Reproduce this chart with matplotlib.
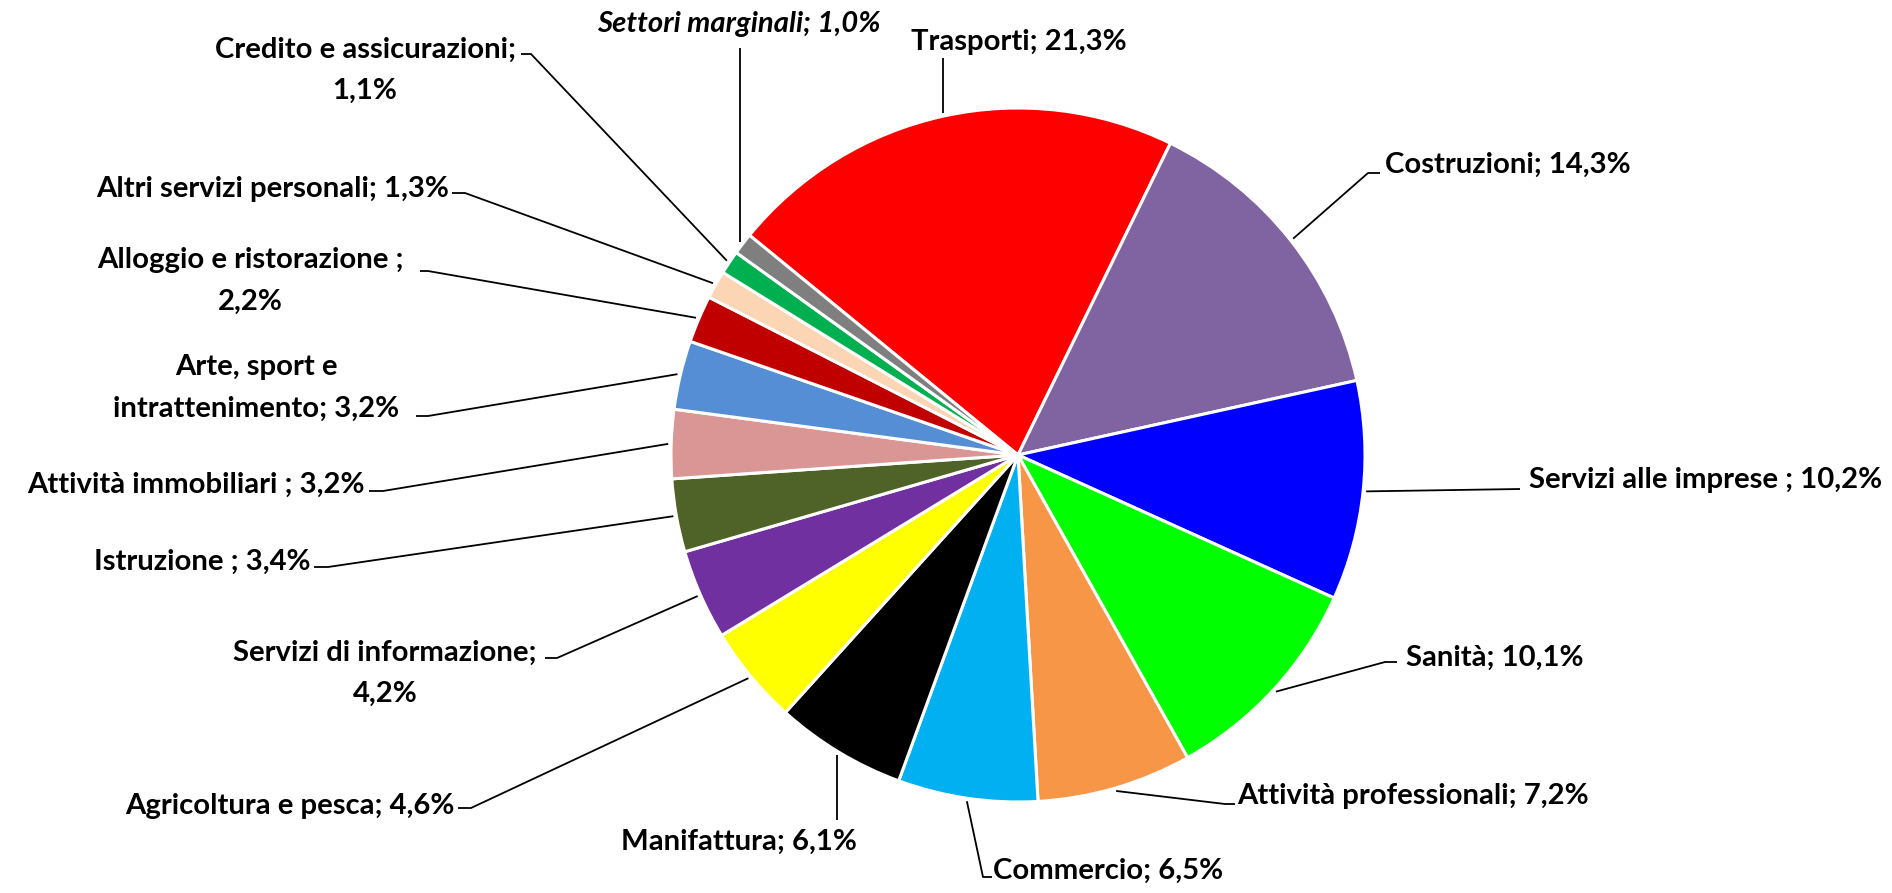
#Composizione per settore - grafico a torta
import numpy as np
import matplotlib.pyplot as plt
from matplotlib import font_manager
from matplotlib.font_manager import FontProperties
from matplotlib.textpath import TextPath

#Dati (in senso orario a partire da Trasporti)
settori = ['Trasporti', 'Costruzioni', 'Servizi alle imprese ', 'Sanità',
           'Attività professionali', 'Commercio', 'Manifattura', 'Agricoltura e pesca',
           'Servizi di informazione', 'Istruzione ', 'Attività immobiliari ',
           'Arte, sport e\nintrattenimento', 'Alloggio e ristorazione ',
           'Altri servizi personali', 'Credito e assicurazioni', 'Settori marginali']
quote = [21.3, 14.3, 10.2, 10.1, 7.2, 6.5, 6.1, 4.6, 4.2, 3.4, 3.2, 3.2, 2.2, 1.3, 1.1, 1.0]
colori = ['#FF0000', '#8064A2', '#0000FF', '#00FF00', '#F79646', '#00B0F0', '#000000',
          '#FFFF00', '#7030A0', '#4F6228', '#D99694', '#558ED5', '#C00000', '#FCD5B5',
          '#00B050', '#7F7F7F']
#etichette con il valore a capo
a_capo = ['Credito e assicurazioni', 'Alloggio e ristorazione ', 'Servizi di informazione']

#Dimensioni in pixel (y dall'alto)
W, H = 1892, 893
cx, cy, r = 1018, 455, 347

#posizione etichetta: x, y, allineamento, punti della linea guida (None = verticale)
layout = [
    (911, 42, 'left', [(None, 58)]),
    (1385, 165, 'left', [(1368, 173), (1380, 173)]),
    (1529, 480, 'left', [(1520, 489)]),
    (1406, 658, 'left', [(1385, 662), (1397, 662)]),
    (1237, 796, 'left', [(1225, 804), (1235, 804)]),
    (993, 871, 'left', [(983, 877), (992, 877)]),
    (857, 842, 'right', [(None, 820)]),
    (455, 806, 'right', [(471, 808), (458, 808)]),
    (385, 673, 'center', [(557, 658), (545, 658)]),
    (310, 562, 'right', [(328, 567), (314, 567)]),
    (365, 485, 'right', [(383, 491), (369, 491)]),
    (256, 388, 'center', [(428, 416), (416, 416)]),
    (250, 281, 'center', [(428, 271), (420, 271)]),
    (449, 189, 'right', [(465, 193), (452, 193)]),
    (365, 70, 'center', [(531, 54), (521, 54)]),
    (739, 24, 'center', [(None, 48)]),
]

#Font: Calibri non disponibile, si sceglie il piu' simile e si adatta la dimensione
nomi = {f.name for f in font_manager.fontManager.ttflist}
famiglia = next(f for f in ['Liberation Sans Narrow', 'Lato', 'DejaVu Sans'] if f in nomi)
fp = FontProperties(family=famiglia, weight='bold')
larghezza = TextPath((0, 0), 'Costruzioni; 14,3%', size=100, prop=fp).get_extents().width / 100
fs = 243 * 72 / (100 * larghezza)

fig = plt.figure(figsize=(W / 100, H / 100), dpi=100)
ax = fig.add_axes([0, 0, 1, 1])

wedges, _ = ax.pie(quote, colors=colori, startangle=140.7, counterclock=False,
                   center=(cx, H - cy), radius=r,
                   wedgeprops=dict(edgecolor='white', linewidth=2.2))
#la torta reimposta i limiti: si torna alle coordinate in pixel
ax.set_aspect('auto')
ax.set_xlim(0, W)
ax.set_ylim(0, H)
ax.axis('off')

for w, nome, q, (tx, ty, ha, punti) in zip(wedges, settori, quote, layout):
    ang = np.deg2rad((w.theta1 + w.theta2) / 2)
    ex = cx + (r + 3) * np.cos(ang)
    ey = H - cy + (r + 3) * np.sin(ang)
    xs, ys = [ex], [ey]
    for px, py in punti:
        xs.append(ex if px is None else px)
        ys.append(H - py)
    ax.plot(xs, ys, color='black', lw=1.3, solid_capstyle='butt')

    sep = ';\n' if nome in a_capo else '; '
    testo = nome + sep + f'{q:.1f}%'.replace('.', ',')
    stile = 'italic' if nome == 'Settori marginali' else 'normal'
    ax.text(tx, H - ty, testo, ha=ha, va='center', multialignment='center',
            family=famiglia, weight='bold', style=stile, fontsize=fs, linespacing=1.72)

fig.savefig('out.png', dpi=100)
